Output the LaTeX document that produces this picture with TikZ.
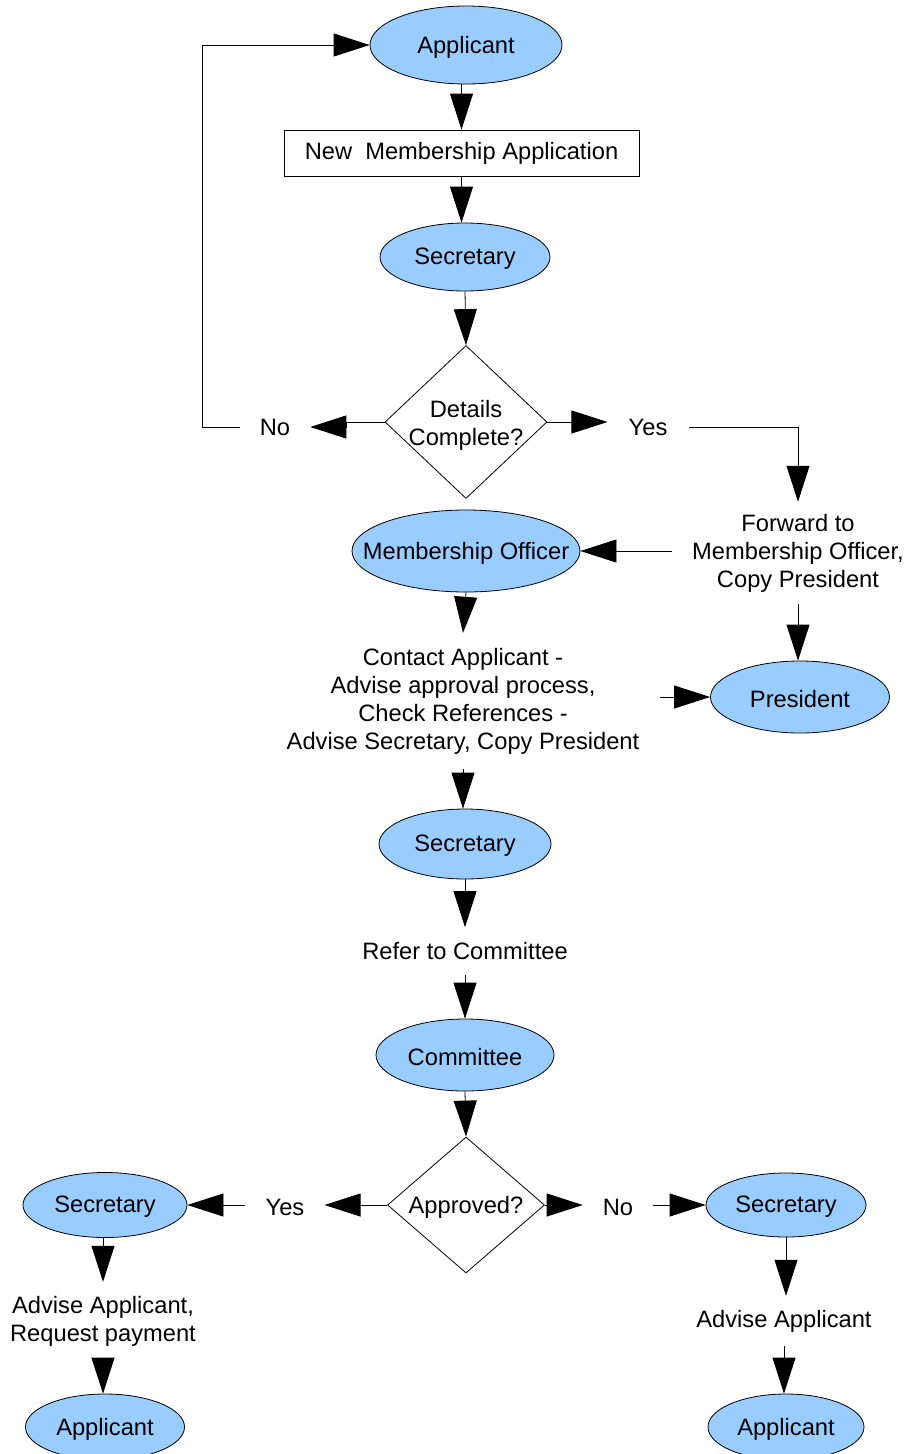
\documentclass[tikz,border=0pt]{standalone}
\usepackage{fontspec}
\setmainfont{Liberation Sans}
\usetikzlibrary{arrows.meta,shapes.geometric}
\definecolor{bl}{HTML}{99CCFF}
\begin{document}
\begin{tikzpicture}[x=1pt,y=-1pt,
  every node/.style={font=\fontsize{23.7}{28}\selectfont},
  oval/.style={ellipse,draw,fill=bl,inner sep=0pt,line width=0.8pt},
  diam/.style={diamond,draw,inner sep=0pt,line width=0.8pt},
  boxed/.style={rectangle,draw,inner sep=0pt,line width=0.8pt},
  lab/.style={align=center,inner sep=0pt},
  intext/.style={label={[lab,yshift=-2pt]center:#1}},
  arr/.style={-{Triangle[length=36pt,width=23pt]},line width=0.8pt},
  ln/.style={line width=0.8pt}]
\useasboundingbox (0,0) rectangle (909,1454);
% nodes
\node[oval,minimum width=192pt,minimum height=78pt,intext=Applicant] (app1) at (466,45) {};
\node[boxed,minimum width=355pt,minimum height=46pt] (box) at (461.5,153) {New\ \ Membership Application};
\node[oval,minimum width=170pt,minimum height=68pt,intext=Secretary] (sec1) at (465,257) {};
\node[diam,minimum width=162pt,minimum height=153pt] (d1) at (466,422) {};
\node[lab] (d1t) at (466,425) {Details\\Complete?};
\node[lab,inner xsep=20pt] (no1) at (275,427) {No};
\node[lab,inner xsep=21pt] (yes1) at (648,427) {Yes};
\node[lab,inner xsep=20pt,inner ysep=12pt] (fwd) at (798,553) {Forward to\\Membership Officer,\\Copy President};
\node[oval,minimum width=228pt,minimum height=82pt,intext=Membership Officer] (mo) at (466,551) {};
\node[oval,minimum width=179pt,minimum height=72pt,intext=President] (pres) at (800,697) {};
\node[lab,inner xsep=21pt,inner ysep=15pt] (contact) at (463,701) {Contact Applicant -\\Advise approval process,\\Check References -\\Advise Secretary, Copy President};
\node[oval,minimum width=172pt,minimum height=70pt,intext=Secretary] (sec2) at (465,844) {};
\node[lab,inner sep=15pt] (refer) at (465,951) {Refer to Committee};
\node[oval,minimum width=178pt,minimum height=72pt,intext=Committee] (comm) at (465,1055) {};
\node[diam,minimum width=157pt,minimum height=136pt] (d2) at (466,1205) {};
\node[lab] (d2t) at (466,1207) {Approved?};
\node[lab,inner xsep=20pt] (yes2) at (285,1207) {Yes};
\node[lab,inner xsep=20pt] (no2) at (618,1207) {No};
\node[oval,minimum width=164pt,minimum height=65pt,intext=Secretary] (sec3) at (105,1205) {};
\node[oval,minimum width=160pt,minimum height=64pt,intext=Secretary] (sec4) at (786,1205) {};
\node[lab,inner sep=14pt] (adv1) at (103,1321) {Advise Applicant,\\Request payment};
\node[lab,inner sep=14pt] (adv2) at (784,1321) {Advise Applicant};
\node[oval,minimum width=159pt,minimum height=66pt,intext=Applicant] (app2) at (105,1427) {};
\node[oval,minimum width=156pt,minimum height=66pt,intext=Applicant] (app3) at (786,1427) {};
% connectors
\draw[arr] (box.north |- app1.south) -- (box.north);
\draw[arr] (box.south) -- (box.south |- sec1.north);
\draw[arr] (sec1.south) -- (d1.north);
\draw[arr] (d1.west) -- ++(-38,0) |- (no1.east);
\draw[arr] (no1.west) -- ++(-37,0) |- (app1.west);
\draw[arr] (d1.east) -- (yes1.west |- d1.east);
\draw[arr] (yes1.east) -| (fwd.north);
\draw[arr] (fwd.west |- mo.east) -- (mo.east);
\draw[arr] (fwd.south) -- (fwd.south |- pres.north);
\draw[arr] (mo.south) -- (contact.north);
\draw[arr] (contact.east |- pres.west) -- (pres.west);
\draw[arr] (contact.south) -- (contact.south |- sec2.north);
\draw[arr] (sec2.south) -- (refer.north);
\draw[arr] (refer.south) -- (comm.north);
\draw[arr] (comm.south) -- (d2.north);
\draw[arr] (d2.west) -- (yes2.east |- d2.west);
\draw[arr] (yes2.west |- sec3.east) -- (sec3.east);
\draw[arr] (d2.east) -- (no2.west |- d2.east);
\draw[arr] (no2.east |- sec4.west) -- (sec4.west);
\draw[arr] (adv1.north |- sec3.south) -- (adv1.north);
\draw[arr] (adv1.south) -- (adv1.south |- app2.north);
\draw[arr] (sec4.south) -- (sec4.south |- adv2.north);
\draw[arr] (adv2.south) -- (adv2.south |- app3.north);
\end{tikzpicture}
\end{document}
